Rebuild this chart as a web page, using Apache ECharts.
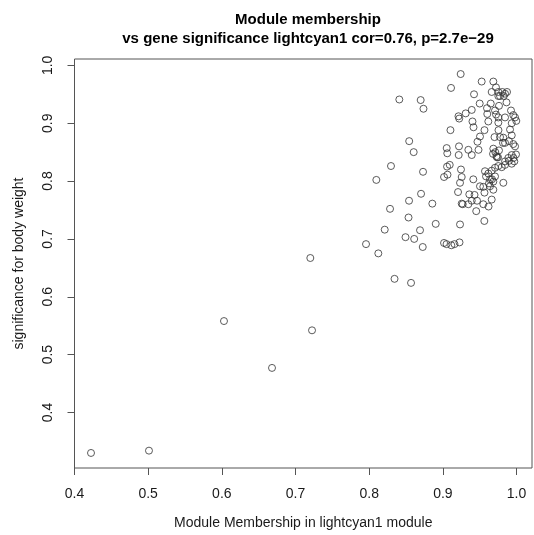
<!DOCTYPE html>
<html><head><meta charset="utf-8">
<script src="https://cdn.jsdelivr.net/npm/echarts@6/dist/echarts.min.js"></script>
<style>html,body{margin:0;padding:0;background:#fff}#c{width:534px;height:535px}</style>
</head><body><div id="c"></div>
<script>
const titleLines = ["Module membership", "vs gene significance lightcyan1 cor=0.76, p=2.7e\u221229"];
const xAxisTitle = "Module Membership in lightcyan1 module";
const yAxisTitle = "significance for body weight";
const xTicks = [0.4, 0.5, 0.6, 0.7, 0.8, 0.9, 1.0];
const yTicks = [0.4, 0.5, 0.6, 0.7, 0.8, 0.9, 1.0];

const membership = [
  0.4224,0.5011,0.6029,0.6681,0.7224,0.7201,0.8344,0.8568,0.7957,0.8124,
  0.8211,0.8283,0.8493,0.8611,0.8534,0.8727,0.8690,0.8541,0.8704,0.8857,
  0.8903,0.8296,0.8097,0.8731,0.8604,0.8543,0.8409,0.8699,0.8737,0.9111,
  0.9242,0.9016,0.9050,0.9115,0.9158,0.9226,0.9233,0.9563,0.9453,0.9256,
  0.9270,0.9392,0.9464,0.9549,0.9663,0.9620,0.9206,0.9359,0.9430,0.9565,
  0.9093,0.9016,0.9063,0.9246,0.9256,0.9233,0.9413,0.9504,0.9572,0.9617,
  0.9663,0.9708,0.9753,0.9586,0.9640,0.9708,0.9685,0.9549,0.9640,0.9685,
  0.9821,0.9799,0.9844,0.9889,0.9935,0.9959,0.9970,0.9935,0.9844,0.9749,
  0.9728,0.9681,0.9712,0.9685,0.9484,0.9392,0.9346,0.9215,0.9219,0.9060,
  0.9052,0.9057,0.9103,0.9416,0.9565,0.9755,0.9504,0.9470,0.9701,0.9776,
  0.9821,0.9912,0.9935,0.9844,0.9898,0.9956,0.9980,0.9527,0.9685,0.9721,
  0.9423,0.9663,0.9753,0.9807,0.9844,0.9826,0.9753,0.9500,0.9650,0.9762,
  0.9864,0.9599,0.9708,0.9392,0.9310,0.9212,0.9222,0.9603,0.9722,0.9753,
  0.9925,0.9956,0.9980,0.9997,0.9844,0.9402,0.9617,0.9753,0.9935,
  0.9762,0.9735,0.9898,0.9993,0.9776,0.9667,0.9626,0.9871,0.9816,0.9346
];
const significance = [
  0.330,0.334,0.558,0.477,0.542,0.667,0.631,0.624,0.691,0.675,
  0.716,0.752,0.703,0.700,0.737,0.686,0.715,0.766,0.778,0.761,
  0.726,0.826,0.802,0.816,0.850,0.869,0.941,0.940,0.925,0.961,
  0.985,0.693,0.691,0.689,0.691,0.694,0.725,0.731,0.748,0.761,
  0.760,0.766,0.766,0.760,0.768,0.756,0.781,0.777,0.776,0.780,
  0.828,0.807,0.811,0.820,0.807,0.797,0.803,0.791,0.817,0.813,
  0.818,0.823,0.826,0.808,0.803,0.808,0.799,0.790,0.791,0.785,
  0.797,0.824,0.828,0.840,0.845,0.840,0.834,0.830,0.834,0.841,
  0.843,0.847,0.850,0.856,0.854,0.845,0.854,0.845,0.860,0.848,
  0.857,0.825,0.888,0.893,0.888,0.888,0.877,0.868,0.876,0.876,
  0.875,0.889,0.879,0.866,0.869,0.864,0.860,0.972,0.972,0.962,
  0.950,0.954,0.954,0.954,0.951,0.947,0.947,0.934,0.934,0.930,
  0.936,0.926,0.922,0.923,0.917,0.912,0.908,0.916,0.915,0.910,
  0.922,0.914,0.910,0.904,0.910,0.903,0.903,0.901,0.900,
  0.853,0.841,0.835,0.846,0.947,0.803,0.796,0.954,0.866,0.760
];

const points = membership.map((m, i) => [m, significance[i]]);
const txt = '#1a1a1a';
const font = '"Liberation Sans", Arial, sans-serif';

const chart = echarts.init(document.getElementById('c'), null, {renderer: 'canvas'});
chart.setOption({
  animation: false,
  backgroundColor: '#fff',
  title: {
    text: titleLines.join('\n'),
    left: 303, top: 5, textAlign: 'center',
    textStyle: {fontFamily: font, fontSize: 15, fontWeight: 'bold', color: '#000', lineHeight: 19}
  },
  grid: {left: 74.5, right: 2, top: 59, bottom: 65.5, show: true, borderColor: '#555', borderWidth: 1, backgroundColor: 'transparent'},
  xAxis: {
    type: 'value', min: 0.4, max: 1.021,
    name: xAxisTitle, nameLocation: 'middle', nameGap: 48,
    nameTextStyle: {fontFamily: font, fontSize: 14, color: txt},
    axisLine: {show: false},
    axisTick: {show: true, inside: false, length: 7, customValues: xTicks, lineStyle: {color: '#555'}},
    axisLabel: {customValues: xTicks, margin: 19, fontFamily: font, fontSize: 14, color: txt, formatter: v => v.toFixed(1)},
    splitLine: {show: false}
  },
  yAxis: {
    type: 'value', min: 0.304, max: 1.011,
    name: yAxisTitle, nameLocation: 'middle', nameGap: 48,
    nameTextStyle: {fontFamily: font, fontSize: 14, color: txt},
    axisLine: {show: false},
    axisTick: {show: true, inside: false, length: 7, customValues: yTicks, lineStyle: {color: '#555'}},
    axisLabel: {customValues: yTicks, rotate: 90, margin: 19, fontFamily: font, fontSize: 14, color: txt, formatter: v => v.toFixed(1)},
    splitLine: {show: false}
  },
  series: [{
    type: 'scatter',
    data: points,
    symbol: 'circle',
    symbolSize: 7,
    itemStyle: {color: 'transparent', borderColor: '#333', borderWidth: 1},
    emphasis: {disabled: true}
  }]
});
</script>
</body></html>
